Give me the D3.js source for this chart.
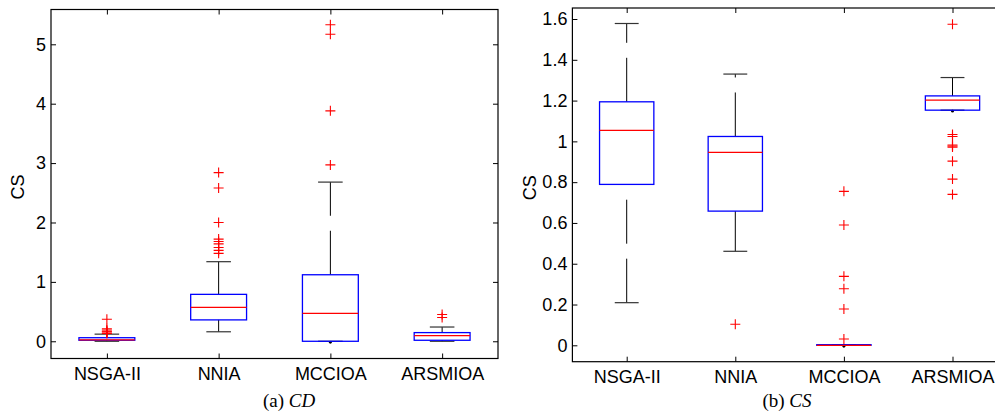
<!DOCTYPE html>
<html>
<head>
<meta charset="utf-8">
<script src="https://cdn.jsdelivr.net/npm/d3@7"></script>
<style>
  body { margin: 0; background: #fff; }
  svg { display: block; }
  .tick text { font-family: "Liberation Sans", Arial, sans-serif; font-size: 18px; fill: #000; }
</style>
</head>
<body>
<svg id="chart" width="995" height="413"></svg>
<script>
const methods = ['NSGA-II', 'NNIA', 'MCCIOA', 'ARSMIOA'];

// (a) CD
const cdTicks = [0, 1, 2, 3, 4, 5];
const cdLower = [0, 0.16, 0, 0];
const cdQ1 = [0.017, 0.36, 0, 0.017];
const cdMedian = [0.025, 0.57, 0.47, 0.095];
const cdQ3 = [0.06, 0.79, 1.12, 0.146];
const cdUpper = [0.12, 1.34, 2.68, 0.24];
const cdOutliers = [
  [0.37, 0.21, 0.19, 0.17, 0.16, 0.14, 0.13],
  [2.84, 2.58, 2.0, 1.72, 1.68, 1.64, 1.58, 1.53, 1.48],
  [5.33, 5.17, 3.88, 2.97],
  [0.45, 0.40]
];

// (b) CS
const csTicks = [0, 0.2, 0.4, 0.6, 0.8, 1, 1.2, 1.4, 1.6];
const csLower = [0.209, 0.461, 0, 1.153];
const csQ1 = [0.789, 0.658, 0, 1.153];
const csMedian = [1.054, 0.946, 0, 1.202];
const csQ3 = [1.194, 1.024, 0.003, 1.223];
const csUpper = [1.578, 1.33, 0.003, 1.313];
const csOutliers = [
  [],
  [0.103],
  [0.755, 0.59, 0.338, 0.277, 0.178, 0.031],
  [1.574, 1.034, 1.024, 0.982, 0.977, 0.972, 0.903, 0.815, 0.740]
];

const svg = d3.select('#chart');

const panels = [
  {
    left: 51, right: 498, top: 9.5, bottom: 358.5,
    yDomain: [-0.29, 5.586], ticks: cdTicks,
    lower: cdLower, q1: cdQ1, median: cdMedian, q3: cdQ3, upper: cdUpper, outliers: cdOutliers,
    ylabelX: 18, caption: ['(a) ', 'CD'], captionX: 289
  },
  {
    left: 572.4, right: 1006.8, top: 8, bottom: 361.7,
    yDomain: [-0.0804, 1.654], ticks: csTicks,
    lower: csLower, q1: csQ1, median: csMedian, q3: csQ3, upper: csUpper, outliers: csOutliers,
    ylabelX: 530, caption: ['(b) ', 'CS'], captionX: 787
  }
];

panels.forEach((p) => {
  const x = d3.scaleLinear().domain([0.5, 4.5]).range([p.left, p.right]);
  const y = d3.scaleLinear().domain(p.yDomain).range([p.bottom, p.top]);
  const g = svg.append('g');
  const fmt = d3.format('~g');

  // ticks inside the frame on all sides
  g.append('g')
    .attr('transform', `translate(${p.left},0)`)
    .call(d3.axisLeft(y).tickValues(p.ticks).tickSize(-5).tickPadding(5).tickFormat(fmt));
  g.append('g')
    .attr('transform', `translate(${p.right},0)`)
    .call(d3.axisRight(y).tickValues(p.ticks).tickSize(-5).tickFormat(''));
  g.append('g')
    .attr('transform', `translate(0,${p.bottom})`)
    .call(d3.axisBottom(x).tickValues([1, 2, 3, 4]).tickSize(-5).tickPadding(9)
      .tickFormat((d) => methods[d - 1]));
  g.append('g')
    .attr('transform', `translate(0,${p.top})`)
    .call(d3.axisTop(x).tickValues([1, 2, 3, 4]).tickSize(-5).tickFormat(''));
  g.selectAll('.domain').remove();
  g.selectAll('.tick line').attr('stroke', '#000').attr('stroke-width', 1);

  g.append('rect')
    .attr('x', p.left).attr('y', p.top)
    .attr('width', p.right - p.left).attr('height', p.bottom - p.top)
    .attr('fill', 'none').attr('stroke', '#000').attr('stroke-width', 1.2);

  const boxes = g.append('g').selectAll('g')
    .data(methods.map((m, i) => i))
    .join('g');

  const half = 0.25;
  const cap = 0.11;

  // whiskers (upper drawn from q3 outward, lower from adjacent value to q1)
  boxes.append('line')
    .attr('x1', (i) => x(i + 1)).attr('x2', (i) => x(i + 1))
    .attr('y1', (i) => y(p.q3[i])).attr('y2', (i) => y(p.upper[i]))
    .attr('stroke', '#000').attr('stroke-dasharray', '44,15');
  boxes.append('line')
    .attr('x1', (i) => x(i + 1)).attr('x2', (i) => x(i + 1))
    .attr('y1', (i) => y(p.lower[i])).attr('y2', (i) => y(p.q1[i]))
    .attr('stroke', '#000').attr('stroke-dasharray', '44,15');
  // caps
  boxes.append('line')
    .attr('x1', (i) => x(i + 1 - cap)).attr('x2', (i) => x(i + 1 + cap))
    .attr('y1', (i) => y(p.upper[i])).attr('y2', (i) => y(p.upper[i]))
    .attr('stroke', '#333').attr('stroke-width', 1.2);
  boxes.append('line')
    .attr('x1', (i) => x(i + 1 - cap)).attr('x2', (i) => x(i + 1 + cap))
    .attr('y1', (i) => y(p.lower[i])).attr('y2', (i) => y(p.lower[i]))
    .attr('stroke', '#333').attr('stroke-width', 1.2);
  // dot for zero-length lower whisker
  boxes.filter((i) => p.lower[i] >= p.q1[i])
    .append('circle')
    .attr('cx', (i) => x(i + 1)).attr('cy', (i) => y(p.lower[i]) + 1)
    .attr('r', 1.4).attr('fill', '#000');

  // box
  boxes.append('rect')
    .attr('x', (i) => x(i + 1 - half))
    .attr('width', (i) => x(i + 1 + half) - x(i + 1 - half))
    .attr('y', (i) => y(p.q3[i]))
    .attr('height', (i) => Math.max(0.5, y(p.q1[i]) - y(p.q3[i])))
    .attr('fill', 'none').attr('stroke', '#0000ff').attr('stroke-width', 1.3);
  // median
  boxes.append('line')
    .attr('x1', (i) => x(i + 1 - half)).attr('x2', (i) => x(i + 1 + half))
    .attr('y1', (i) => y(p.median[i])).attr('y2', (i) => y(p.median[i]))
    .attr('stroke', '#ff0000').attr('stroke-width', 1.3);

  // outliers
  boxes.each(function (i) {
    d3.select(this).selectAll('path.out')
      .data(p.outliers[i])
      .join('path')
      .attr('class', 'out')
      .attr('d', (v) => {
        const cx = x(i + 1), cy = y(v), r = 5;
        return `M${cx - r},${cy}H${cx + r}M${cx},${cy - r}V${cy + r}`;
      })
      .attr('stroke', '#ff0000').attr('stroke-width', 1.1).attr('fill', 'none');
  });

  // y label
  svg.append('text')
    .attr('transform', `translate(${p.ylabelX},${(p.top + p.bottom) / 2 + 3}) rotate(-90)`)
    .attr('text-anchor', 'middle')
    .attr('dy', '0.35em')
    .style('font-family', '"Liberation Sans", Arial, sans-serif')
    .style('font-size', '18px')
    .text('CS');

  // caption
  const cap2 = svg.append('text')
    .attr('x', p.captionX).attr('y', 407)
    .attr('text-anchor', 'middle')
    .style('font-family', '"Liberation Serif", "Times New Roman", serif')
    .style('font-size', '19px');
  cap2.append('tspan').text(p.caption[0]);
  cap2.append('tspan').style('font-style', 'italic').text(p.caption[1]);
});
</script>
</body>
</html>
